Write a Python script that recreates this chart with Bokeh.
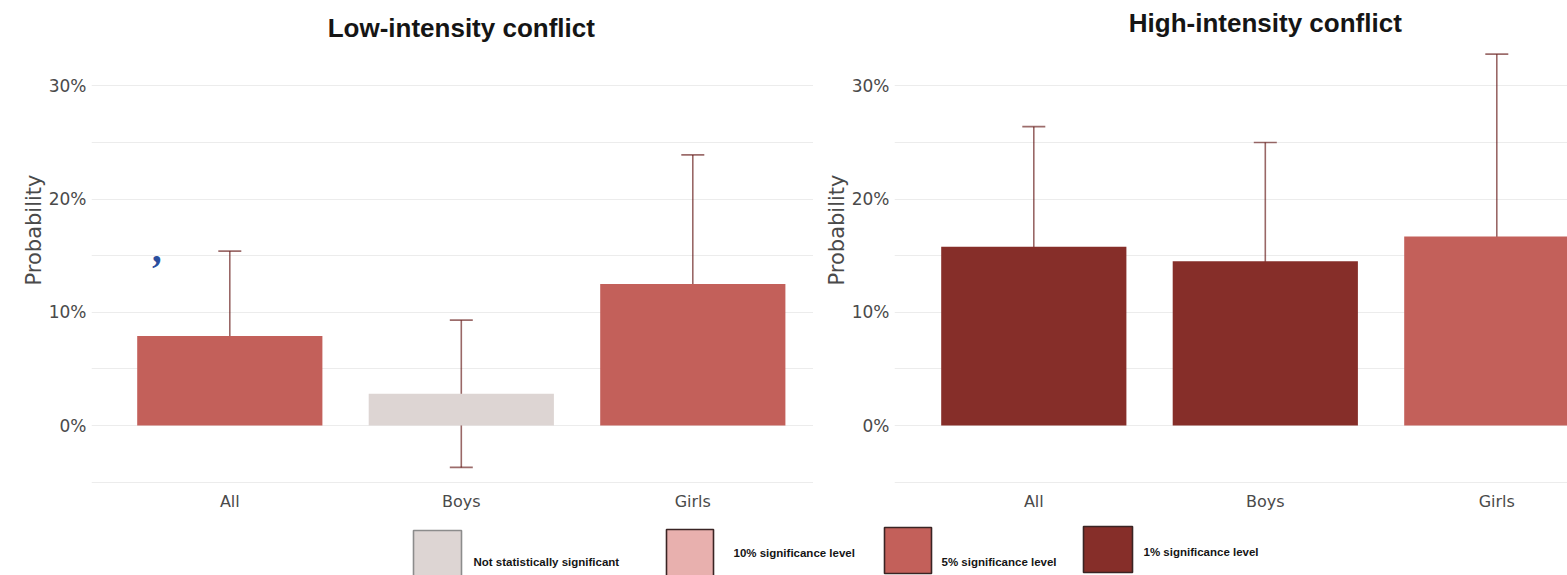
from bokeh.plotting import figure
from bokeh.models import ColumnDataSource, Range1d, FixedTicker, Whisker, TeeHead, Label, Title
from bokeh.layouts import column, row
from bokeh.embed import file_html
from bokeh.resources import INLINE
from bokeh.core.properties import value

# ---------------- data ----------------
categories = ["All", "Boys", "Girls"]
panel_titles = ["Low-intensity conflict", "High-intensity conflict"]

low_values = [0.079, 0.028, 0.125]
low_lower = [0.003, -0.037, 0.012]
low_upper = [0.154, 0.093, 0.239]
low_sig = ["5%", "ns", "5%"]

high_values = [0.158, 0.145, 0.167]
high_lower = [0.053, 0.040, 0.0065]
high_upper = [0.264, 0.250, 0.328]
high_sig = ["1%", "1%", "5%"]

legend_keys = ["ns", "10%", "5%", "1%"]
legend_labels = ["Not statistically significant", "10% significance level",
                 "5% significance level", "1% significance level"]

y_tick_values = [0.0, 0.1, 0.2, 0.3]
y_tick_labels = ["0%", "10%", "20%", "30%"]
y_grid_values = [-0.05, 0.0, 0.05, 0.1, 0.15, 0.2, 0.25, 0.3]
y_axis_label = "Probability"

# ---------------- styling / layout ----------------
SIG_COLORS = {"ns": "#ddd5d3", "10%": "#e8b0ae", "5%": "#c3605a", "1%": "#862e29"}
LEGEND_BORDER = {"ns": "#8c8c8c", "10%": "#3a2424", "5%": "#3a2424", "1%": "#3a2424"}
EB_COLOR = "#5a0a08"
GRID_COLOR = "#ececec"
LABEL_COLOR = "#4a4a4a"
BODY_FONT = "DejaVu Sans"
TITLE_FONT = "Liberation Sans"
LEGEND_FONT = "Liberation Sans"

FIG_H = 520
FRAME_BOTTOM = 484
ZERO_PX = 425.0
PX_PER_UNIT_Y = 1132.0
PX_PER_CAT = 231.5
Y_START = -(FRAME_BOTTOM - ZERO_PX) / PX_PER_UNIT_Y
Y_END = ZERO_PX / PX_PER_UNIT_Y


def py(px):
    return (ZERO_PX - px) / PX_PER_UNIT_Y


def make_panel(title, vals, lo, hi, sig, fig_w, border_left, first_center_px, title_baseline_px):
    x_start = (border_left - first_center_px) / PX_PER_CAT
    x_end = (fig_w - first_center_px) / PX_PER_CAT

    p = figure(width=fig_w, height=FIG_H, title=None,
               x_range=Range1d(x_start, x_end), y_range=Range1d(Y_START, Y_END),
               output_backend="svg", toolbar_location=None,
               min_border_left=border_left, min_border_right=0,
               min_border_top=0, min_border_bottom=FIG_H - FRAME_BOTTOM)
    p.outline_line_color = None
    p.background_fill_color = "white"
    p.border_fill_color = "white"

    xs = list(range(len(categories)))
    src = ColumnDataSource(dict(x=xs, top=vals, lower=lo, upper=hi,
                                color=[SIG_COLORS[s] for s in sig]))
    p.vbar(x="x", top="top", bottom=0, width=0.8, fill_color="color",
           line_color=None, source=src)

    head_kw = dict(size=23, line_color=EB_COLOR, line_alpha=0.6, line_width=1.7)
    w = Whisker(base="x", lower="lower", upper="upper", source=src, dimension="height",
                line_color=EB_COLOR, line_alpha=0.62, line_width=1.6,
                upper_head=TeeHead(**head_kw), lower_head=TeeHead(**head_kw))
    p.add_layout(w)

    # axes
    p.xaxis.ticker = FixedTicker(ticks=xs)
    p.xaxis.major_label_overrides = {i: c for i, c in enumerate(categories)}
    p.yaxis.ticker = FixedTicker(ticks=y_tick_values)
    p.yaxis.major_label_overrides = {v: l for v, l in zip(y_tick_values, y_tick_labels)}
    for ax in (p.xaxis[0], p.yaxis[0]):
        ax.axis_line_color = None
        ax.major_tick_line_color = None
        ax.minor_tick_line_color = None
        ax.major_tick_out = 0
        ax.major_tick_in = 0
        ax.major_label_text_font = BODY_FONT
        ax.major_label_text_color = LABEL_COLOR
    p.xaxis.major_label_text_font_size = "16px"
    p.xaxis.major_label_standoff = 7
    p.yaxis.major_label_text_font_size = "17px"
    p.yaxis.major_label_standoff = 5

    p.xgrid.visible = False
    p.ygrid.ticker = FixedTicker(ticks=y_grid_values)
    p.ygrid.grid_line_color = GRID_COLOR
    p.ygrid.grid_line_width = 1

    # y-axis title as a side title, placed along the left edge
    p.add_layout(Title(text=y_axis_label, align="left", offset=FRAME_BOTTOM - 285,
                       text_font=BODY_FONT, text_font_size="21px",
                       text_font_style="normal", text_color=LABEL_COLOR,
                       standoff=0), "left")

    # panel title, centred over the categories
    p.add_layout(Label(x=(len(categories) - 1) / 2, y=py(title_baseline_px), text=title,
                       text_align="center", text_baseline="alphabetic",
                       text_font=TITLE_FONT, text_font_size="26px",
                       text_font_style="bold", text_color="#151515"))
    return p


left = make_panel(panel_titles[0], low_values, low_lower, low_upper, low_sig,
                  fig_w=813, border_left=91, first_center_px=229.3, title_baseline_px=27)
# stray blue mark present in the source image
left.add_layout(Label(x=(153 - 229.3) / PX_PER_CAT, y=py(248), text=",",
                      text_font="Liberation Serif", text_font_size="40px",
                      text_font_style="bold italic", text_color="#2b4f9e",
                      text_baseline="alphabetic"))

right = make_panel(panel_titles[1], high_values, high_lower, high_upper, high_sig,
                   fig_w=754, border_left=81, first_center_px=1033.3 - 813, title_baseline_px=22)

# ---------------- legend strip ----------------
LEG_TOP = 520
lg = figure(width=1567, height=575 - LEG_TOP, x_range=Range1d(0, 1567),
            y_range=Range1d(575 - LEG_TOP, 0), output_backend="svg",
            toolbar_location=None, min_border=0, title=None)
lg.axis.visible = False
lg.grid.visible = False
lg.outline_line_color = None
lg.background_fill_color = "white"
lg.border_fill_color = "white"

box_left = [413, 666, 884, 1083]
box_right = [461, 713, 931, 1132]
box_top = [530, 529, 527, 526]
box_bottom = [578, 578, 573, 572]
text_x = [473, 733, 941, 1143]
text_y = [561, 552, 561, 551]

lsrc = ColumnDataSource(dict(
    left=box_left, right=box_right,
    top=[t - LEG_TOP for t in box_top], bottom=[b - LEG_TOP for b in box_bottom],
    fill=[SIG_COLORS[k] for k in legend_keys], line=[LEGEND_BORDER[k] for k in legend_keys],
    tx=text_x, ty=[t - LEG_TOP for t in text_y], label=legend_labels))
lg.quad(left="left", right="right", top="top", bottom="bottom", fill_color="fill",
        line_color="line", line_width=1.6, source=lsrc)
lg.text(x="tx", y="ty", text="label", source=lsrc, text_font=value(LEGEND_FONT),
        text_font_size="11.5px", text_font_style="bold", text_baseline="middle",
        text_align="left", text_color="#151515")

layout = column(row(left, right, spacing=0), lg, spacing=0)
open("out.html", "w").write(file_html(layout, INLINE))
